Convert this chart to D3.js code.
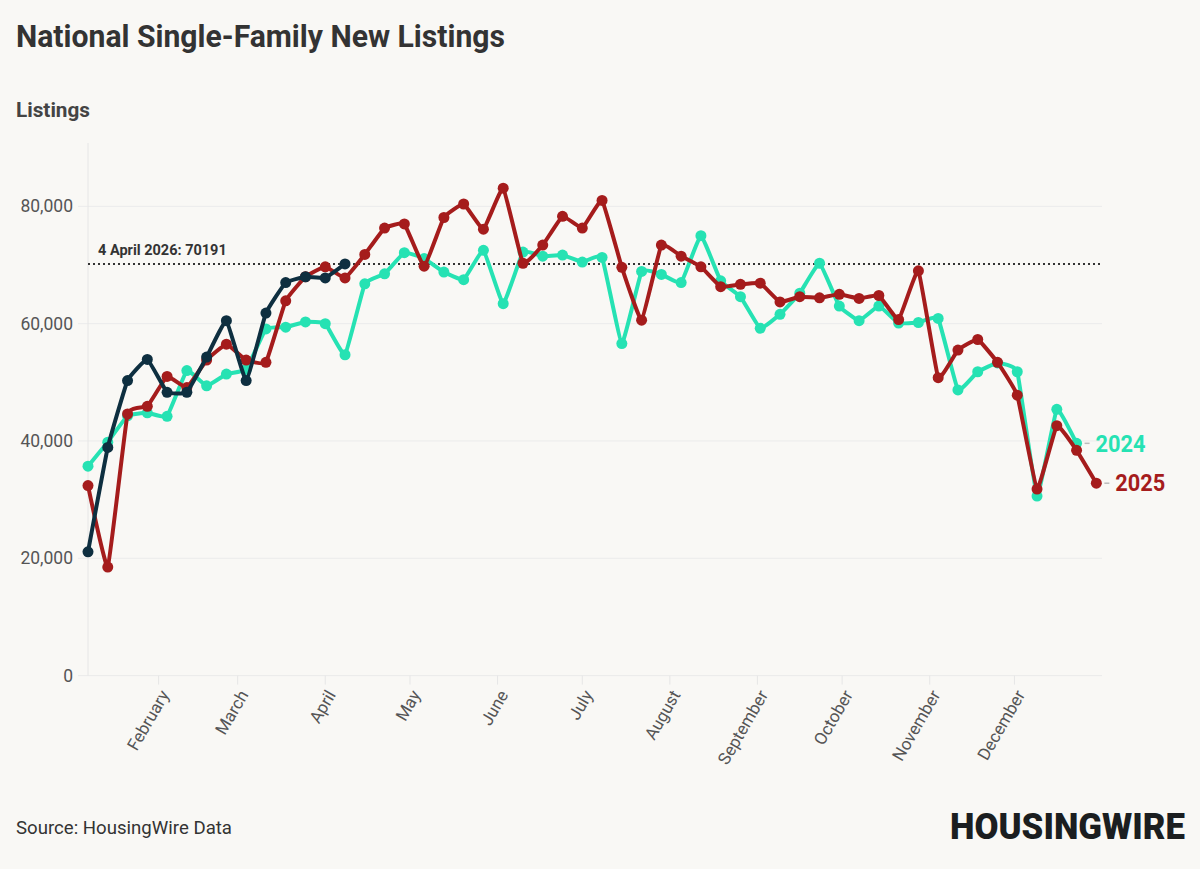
<!DOCTYPE html>
<html>
<head>
<meta charset="utf-8">
<script src="https://cdn.jsdelivr.net/npm/d3@7"></script>
<style>
  body { margin: 0; background: #f9f8f5; }
  svg { display: block; font-family: Roboto, "Noto Sans", sans-serif; }
</style>
</head>
<body>
<div id="chart"></div>
<script>
// weekly new listings
const listings2024 = [35700, 39800, 44300, 44800, 44200, 52000, 49400, 51400, 52200, 59100,
  59400, 60300, 60000, 54700, 66800, 68500, 72100, 71100, 68800, 67500,
  72500, 63400, 72200, 71500, 71700, 70500, 71300, 56600, 68900, 68400,
  67000, 75000, 67300, 64600, 59200, 61600, 65200, 70300, 63000, 60500,
  63000, 60100, 60200, 60900, 48700, 51800, 53300, 51800, 30600, 45400, 39600];
const listings2025 = [32400, 18500, 44600, 45900, 51000, 49100, 53800, 56500, 53800, 53400,
  63900, 68000, 69700, 67800, 71800, 76300, 77000, 69800, 78100, 80400,
  76100, 83100, 70300, 73400, 78300, 76300, 81000, 69600, 60600, 73400,
  71500, 69700, 66300, 66700, 66900, 63700, 64600, 64400, 65000, 64300,
  64800, 60700, 69000, 50800, 55500, 57300, 53400, 47800, 31800, 42600, 38400, 32800];
const listings2026 = [21100, 38900, 50300, 53900, 48300, 48300, 54300, 60500, 50300, 61800,
  67000, 68000, 67800, 70191];
const yTicks = [0, 20000, 40000, 60000, 80000];
const latestLabel = "4 April 2026: 70191";
const latestValue = 70191;

const firstWeek = new Date(2025, 0, 7);
const weeks = d3.range(52).map(function (i) { return d3.timeDay.offset(firstWeek, 7 * i); });

const width = 1200, height = 869;
const svg = d3.select("#chart").append("svg")
    .attr("width", width)
    .attr("height", height);

svg.append("rect").attr("width", width).attr("height", height).attr("fill", "#f9f8f5");

const x = d3.scaleTime()
    .domain([firstWeek, new Date(2026, 0, 1)])
    .range([88, 1102]);
const y = d3.scaleLinear()
    .domain([0, 90800])
    .range([675.6, 143]);

// title + subtitle
svg.append("text")
    .attr("x", 16).attr("y", 47)
    .attr("font-size", 31).attr("font-weight", 700).attr("fill", "#333")
    .attr("textLength", 489).attr("lengthAdjust", "spacingAndGlyphs")
    .text("National Single-Family New Listings");
svg.append("text")
    .attr("x", 16).attr("y", 117)
    .attr("font-size", 20).attr("font-weight", 700).attr("fill", "#444")
    .attr("textLength", 74).attr("lengthAdjust", "spacingAndGlyphs")
    .text("Listings");

// gridlines + y labels
const yAxis = svg.append("g");
yAxis.selectAll("line")
    .data(yTicks)
    .join("line")
    .attr("x1", 78).attr("x2", 1102)
    .attr("y1", function (d) { return y(d); })
    .attr("y2", function (d) { return y(d); })
    .attr("stroke", "#ebebeb").attr("stroke-width", 1);
yAxis.selectAll("text")
    .data(yTicks)
    .join("text")
    .attr("x", 73)
    .attr("y", function (d) { return y(d); })
    .attr("dy", "0.35em")
    .attr("text-anchor", "end")
    .attr("font-size", 17.5).attr("fill", "#555")
    .text(function (d) { return d3.format(",")(d); });

svg.append("line")
    .attr("x1", 88).attr("x2", 88)
    .attr("y1", y(90800)).attr("y2", y(0))
    .attr("stroke", "#e6e6e6");

// x axis with month ticks
const months = d3.timeMonth.range(new Date(2025, 1, 1), new Date(2025, 11, 2));
const xAxis = svg.append("g");
xAxis.selectAll("line")
    .data(months)
    .join("line")
    .attr("x1", function (d) { return x(d); })
    .attr("x2", function (d) { return x(d); })
    .attr("y1", y(0)).attr("y2", y(0) + 9)
    .attr("stroke", "#e6e6e6");
xAxis.selectAll("text")
    .data(months)
    .join("text")
    .attr("transform", function (d) { return "translate(" + (x(d) + 6) + "," + (y(0) + 16) + ") rotate(-60)"; })
    .attr("text-anchor", "end")
    .attr("dy", "0.35em")
    .attr("font-size", 17).attr("fill", "#555")
    .text(function (d) { return d3.timeFormat("%B")(d); });

// latest value reference line
svg.append("line")
    .attr("x1", 88).attr("x2", 1102)
    .attr("y1", y(latestValue)).attr("y2", y(latestValue))
    .attr("stroke", "#333").attr("stroke-width", 2)
    .attr("stroke-dasharray", "2,3");
svg.append("text")
    .attr("x", 98).attr("y", y(latestValue) - 9)
    .attr("font-size", 14.5).attr("font-weight", 700).attr("fill", "#333")
    .text(latestLabel);

// series
const series = [
    {name: "2024", values: listings2024, color: "#26e2b3"},
    {name: "2025", values: listings2025, color: "#a51c1c"},
    {name: "2026", values: listings2026, color: "#0e2f40"}
];

const line = d3.line()
    .x(function (d, i) { return x(weeks[i]); })
    .y(function (d) { return y(d); })
    .curve(d3.curveCardinal.tension(0.7));

series.forEach(function (s) {
    const g = svg.append("g");
    g.append("path")
        .attr("d", line(s.values))
        .attr("fill", "none")
        .attr("stroke", s.color)
        .attr("stroke-width", 4)
        .attr("stroke-linejoin", "round");
    g.selectAll("circle")
        .data(s.values)
        .join("circle")
        .attr("cx", function (d, i) { return x(weeks[i]); })
        .attr("cy", function (d) { return y(d); })
        .attr("r", 5.5)
        .attr("fill", s.color);
});

// end labels for 2024 and 2025
series.slice(0, 2).forEach(function (s) {
    const last = s.values.length - 1;
    const px = x(weeks[last]), py = y(s.values[last]);
    svg.append("line")
        .attr("x1", px + 8).attr("x2", px + 13)
        .attr("y1", py).attr("y2", py)
        .attr("stroke", "#bbb").attr("stroke-width", 1.5);
    svg.append("text")
        .attr("x", px + 19).attr("y", py)
        .attr("dy", "0.36em")
        .attr("font-size", 23).attr("font-weight", 700).attr("fill", s.color)
        .attr("textLength", 50).attr("lengthAdjust", "spacingAndGlyphs")
        .text(s.name);
});

// footer
svg.append("text")
    .attr("x", 16).attr("y", 834)
    .attr("font-size", 18.5).attr("fill", "#333")
    .attr("textLength", 216).attr("lengthAdjust", "spacingAndGlyphs")
    .text("Source: HousingWire Data");
svg.append("text")
    .attr("x", 950).attr("y", 839)
    .attr("font-size", 37).attr("font-weight", 900).attr("fill", "#1b1e20")
    .attr("textLength", 235).attr("lengthAdjust", "spacingAndGlyphs")
    .text("HOUSINGWIRE");
</script>
</body>
</html>
